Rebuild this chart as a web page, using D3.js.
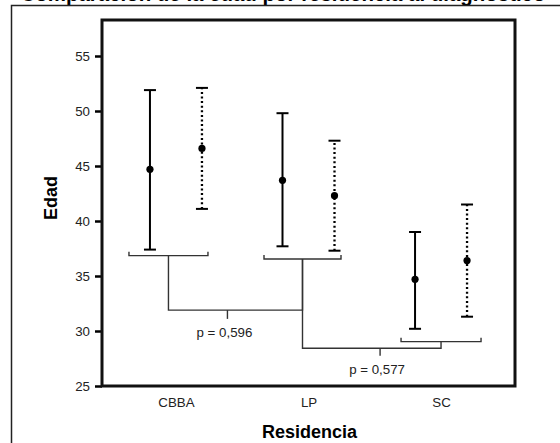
<!DOCTYPE html>
<html>
<head>
<meta charset="utf-8">
<script src="https://cdn.jsdelivr.net/npm/d3@7"></script>
<style>
  body { margin: 0; background: #fff; }
  text { font-family: Arial, "Liberation Sans", sans-serif; }
</style>
</head>
<body>
<div id="chart"></div>
<script>
// datos
var categorias = ["CBBA", "LP", "SC"];
var series = ["g1", "g2"];           // linea continua, linea punteada

var media1 = [44.7, 43.7, 34.7];
var inf1   = [37.4, 37.7, 30.2];
var sup1   = [51.9, 49.8, 39.0];

var media2 = [46.6, 42.3, 36.4];
var inf2   = [41.1, 37.3, 31.3];
var sup2   = [52.1, 47.3, 41.5];

var yTicks = [25, 30, 35, 40, 45, 50, 55];

// llaves de comparacion (en unidades de Edad)
var llaveY = [36.85, 36.55, 29.03];
var compY  = [31.9, 28.43];
var compTickY = [31.1, 27.75];
var compLabels = ["p = 0,596", "p = 0,577"];

var width = 560, height = 443;
var plot = {left: 102, right: 515, top: 20, bottom: 386};

var svg = d3.select("#chart").append("svg")
	.attr("width", width)
	.attr("height", height)
	.style("display", "block");

svg.append("rect").attr("width", width).attr("height", height).attr("fill", "#fff");

// titulo cortado arriba
svg.append("text")
	.attr("x", 283).attr("y", 0.5)
	.attr("text-anchor", "middle")
	.attr("font-size", 22).attr("font-weight", "bold")
	.attr("textLength", 525).attr("lengthAdjust", "spacingAndGlyphs")
	.text("Comparación de la edad por residencia al diagnóstico");

// marco exterior
svg.append("rect")
	.attr("x", 11.5).attr("y", 5.5)
	.attr("width", 700).attr("height", 600)
	.attr("fill", "none").attr("stroke", "#222").attr("stroke-width", 1.5);

var x = d3.scalePoint()
	.domain(categorias)
	.range([plot.left, plot.right])
	.padding(0.558);

var xs = d3.scalePoint()
	.domain(series)
	.range([-26, 26]);

var y = d3.scaleLinear()
	.domain([25, 25 + (plot.bottom - plot.top) / 11])
	.range([plot.bottom, plot.top]);

// ejes
var yAxis = svg.append("g")
	.attr("transform", "translate(" + plot.left + ",0)")
	.call(d3.axisLeft(y).tickValues(yTicks).tickSize(7).tickSizeOuter(0).tickPadding(5));
yAxis.select(".domain").remove();
yAxis.selectAll("line").attr("stroke", "#000").attr("stroke-width", 2.5);
yAxis.selectAll("text").attr("font-size", 13.3).attr("fill", "#222").attr("font-family", "Arial, 'Liberation Sans', sans-serif");

var xAxis = svg.append("g")
	.attr("transform", "translate(0," + plot.bottom + ")")
	.call(d3.axisBottom(x).tickSize(0).tickPadding(12));
xAxis.select(".domain").remove();
xAxis.selectAll("text").attr("font-size", 13.3).attr("fill", "#222").attr("font-family", "Arial, 'Liberation Sans', sans-serif");

svg.append("rect")
	.attr("x", plot.left).attr("y", plot.top)
	.attr("width", plot.right - plot.left).attr("height", plot.bottom - plot.top)
	.attr("fill", "none").attr("stroke", "#111").attr("stroke-width", 3);

svg.append("text")
	.attr("x", (plot.left + plot.right) / 2 + 1).attr("y", 438)
	.attr("text-anchor", "middle")
	.attr("font-size", 18).attr("font-weight", "bold")
	.text("Residencia");

svg.append("text")
	.attr("transform", "translate(57,198) rotate(-90)")
	.attr("text-anchor", "middle")
	.attr("font-size", 18).attr("font-weight", "bold")
	.text("Edad");

// barras de error
var datos = [];
categorias.forEach(function(c, i) {
	datos.push({cat: c, s: "g1", m: media1[i], lo: inf1[i], hi: sup1[i]});
	datos.push({cat: c, s: "g2", m: media2[i], lo: inf2[i], hi: sup2[i]});
});

var px = function(d) { return x(d.cat) + xs(d.s); };
var capW = 6;

var barras = svg.selectAll("g.barra")
	.data(datos).enter()
	.append("g").attr("class", "barra");

barras.append("line")
	.attr("x1", px).attr("x2", px)
	.attr("y1", function(d) { return y(d.lo); })
	.attr("y2", function(d) { return y(d.hi); })
	.attr("stroke", "#000")
	.attr("stroke-width", function(d) { return d.s == "g1" ? 2 : 2.3; })
	.attr("stroke-dasharray", function(d) { return d.s == "g1" ? null : "2,2.6"; });

barras.append("line")
	.attr("x1", function(d) { return px(d) - capW; })
	.attr("x2", function(d) { return px(d) + capW; })
	.attr("y1", function(d) { return y(d.hi); })
	.attr("y2", function(d) { return y(d.hi); })
	.attr("stroke", "#000").attr("stroke-width", 2);

barras.append("line")
	.attr("x1", function(d) { return px(d) - capW; })
	.attr("x2", function(d) { return px(d) + capW; })
	.attr("y1", function(d) { return y(d.lo); })
	.attr("y2", function(d) { return y(d.lo); })
	.attr("stroke", "#000").attr("stroke-width", 2);

barras.append("circle")
	.attr("cx", px)
	.attr("cy", function(d) { return y(d.m); })
	.attr("r", 3.6)
	.attr("fill", "#000");

// llaves: extremos relativos al centro de cada categoria
var llaveX = [[-47, 32], [-44.5, 32.5], [-40, 40]];
var llaves = categorias.map(function(c, i) {
	var x0 = x(c) + llaveX[i][0], x1 = x(c) + llaveX[i][1];
	return {x0: x0, x1: x1, mid: (x0 + x1) / 2, y: y(llaveY[i])};
});

var ann = svg.append("g")
	.attr("fill", "none").attr("stroke", "#333").attr("stroke-width", 1.4);

llaves.forEach(function(b) {
	ann.append("path")
		.attr("d", "M" + b.x0 + "," + (b.y - 4) + "V" + b.y + "H" + b.x1 + "V" + (b.y - 4));
});

// comparaciones entre llaves consecutivas
var tickPos = [0.44, 0.56];
for (var i = 0; i < 2; i++) {
	var a = llaves[i], b = llaves[i + 1];
	var yc = y(compY[i]);
	ann.append("path")
		.attr("d", "M" + a.mid + "," + a.y + "V" + yc + "H" + b.mid + "V" + b.y);
	var tx = a.mid + (b.mid - a.mid) * tickPos[i];
	ann.append("line")
		.attr("x1", tx).attr("x2", tx)
		.attr("y1", yc).attr("y2", y(compTickY[i]));
	svg.append("text")
		.attr("x", tx - 3).attr("y", y(compTickY[i]) + 18)
		.attr("text-anchor", "middle")
		.attr("font-size", 13.3).attr("fill", "#222")
		.text(compLabels[i]);
}
</script>
</body>
</html>
